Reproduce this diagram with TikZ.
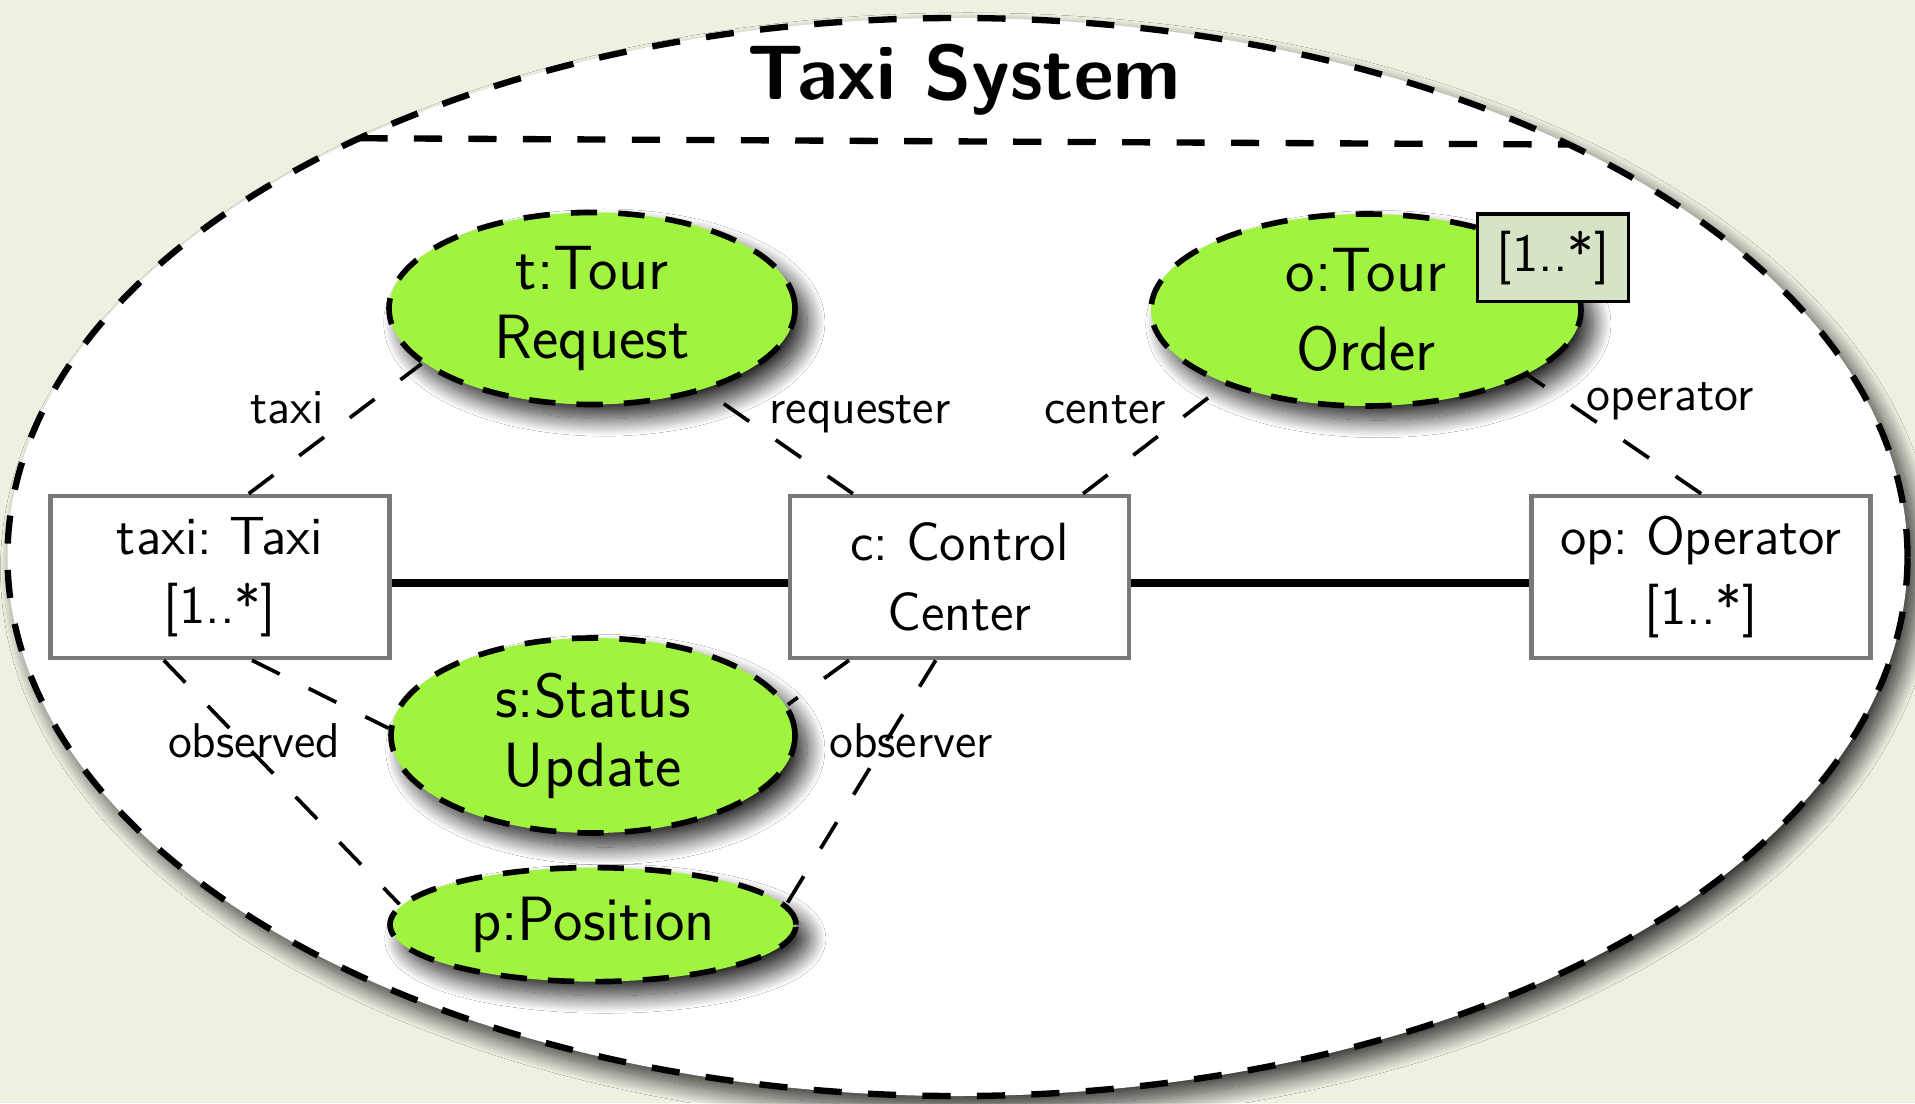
\documentclass[tikz,border=0pt]{standalone}
\usepackage{fontspec}
\renewcommand{\familydefault}{\sfdefault}
\frenchspacing
\usetikzlibrary{positioning}
\usetikzlibrary{shapes.geometric}
\usetikzlibrary{shadows.blur}

\definecolor{paper}{RGB}{236,241,226}
\definecolor{collabgreen}{RGB}{160,244,64}
\definecolor{multfill}{RGB}{214,227,197}
\definecolor{partline}{RGB}{120,122,122}

\tikzset{
  system/.style={ellipse, draw, fill=white, line width=1.8pt,
    dash pattern=on 8pt off 7.5pt, outer sep=0pt,
    minimum width=19.0cm, minimum height=10.78cm,
    blur shadow={shadow xshift=3pt, shadow yshift=-3.5pt, shadow blur radius=5pt,
      shadow blur steps=30, shadow opacity=80}},
  collab/.style={ellipse, draw, fill=collabgreen, line width=1.6pt,
    dash pattern=on 7.5pt off 6pt, inner sep=0pt, align=center,
    font=\fontsize{17.8}{19.6}\selectfont,
    blur shadow={shadow xshift=3.5pt, shadow yshift=-4pt, shadow blur radius=5pt,
      shadow blur steps=30, shadow opacity=85}},
  part/.style={rectangle, draw=partline, fill=white, line width=1.3pt,
    minimum width=3.39cm, minimum height=1.62cm, align=center,
    font=\fontsize{15.3}{19.8}\selectfont},
  mult/.style={rectangle, draw, fill=multfill, line width=.9pt,
    minimum width=1.51cm, minimum height=.875cm, inner sep=0pt,
    font=\fontsize{15.3}{18}\selectfont},
  link/.style={line width=2pt},
  role/.style={line width=1.05pt, dash pattern=on 8.8pt off 9.2pt},
  rolename/.style={anchor=base, inner sep=0pt, font=\fontsize{13.9}{16}\selectfont},
}

\begin{document}
\begin{tikzpicture}
\path[use as bounding box, fill=paper] (0,0) rectangle (19.15,-11.03);

% system boundary
\node[system] (sys) at (9.575,-5.57) {};
\draw[line width=1.8pt, dash pattern=on 8pt off 7.5pt] (sys.145.5) -- (sys.34.5);
\node[anchor=base, font=\fontsize{22}{26}\selectfont\bfseries] (title) at (9.64,-1.00) {Taxi System};

% parts
\node[part] (taxi) at (2.20,-5.77) {taxi: Taxi\\{}[1..*]};
\node[part, right=3.96 of taxi] (c) {c: Control\\Center};
\node[part, right=3.98 of c] (op) {op: Operator\\{}[1..*]};

% collaborations
\node[collab, minimum width=4.06cm, minimum height=1.92cm] (t) at (5.92,-3.085) {t:Tour\\Request};
\node[collab, minimum width=4.30cm, minimum height=1.92cm] (o) at (13.66,-3.10) {o:Tour\\[3pt]Order};
\node[mult] (o-mult) at (15.53,-2.578) {[1..*]};
\node[collab, minimum width=4.04cm, minimum height=1.95cm] (s) at (5.93,-7.355) {s:Status\\Update};
\node[collab, minimum width=4.06cm, minimum height=1.14cm, below=0.29 of s] (p) {p:Position};

% role bindings
\draw[role] (taxi.71) -- (t.198);
\draw[role] (c.142) -- (t.324);
\draw[role] (c.34) -- (o.208);
\draw[role] (op.north) -- (o.338);
\draw[role] (taxi.236) -- (p.174);
\draw[role] (taxi.291) -- (s.178);
\draw[role] (c.217) -- (s.9);
\draw[role] (c.254) -- (p.6);

\node[rolename] (taxi-r) at (2.87,-4.23) {taxi};
\node[rolename] (requester-r) at (8.60,-4.23) {requester};
\node[rolename] (center-r) at (11.05,-4.23) {center};
\node[rolename] (operator-r) at (16.70,-4.10) {operator};
\node[rolename] (observed-r) at (2.54,-7.57) {observed};
\node[rolename] (observer-r) at (9.11,-7.57) {observer};

% connectors
\draw[link] ([yshift=-.06cm]taxi.east) -- ([yshift=-.06cm]c.west);
\draw[link] ([yshift=-.06cm]c.east) -- ([yshift=-.06cm]op.west);

\end{tikzpicture}
\end{document}
